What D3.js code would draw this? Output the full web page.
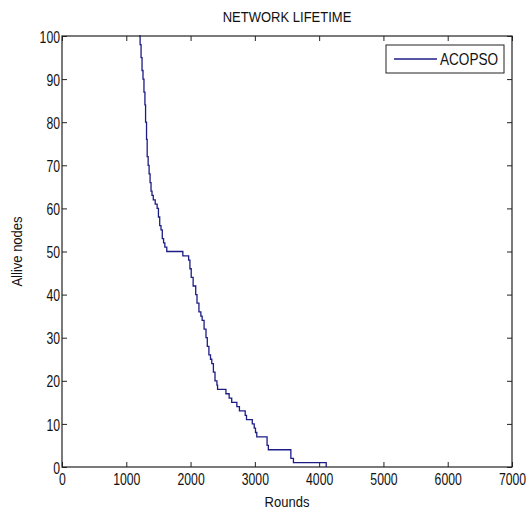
<!DOCTYPE html>
<html>
<head>
<meta charset="utf-8">
<script src="https://cdn.jsdelivr.net/npm/d3@7"></script>
<style>
  body { margin: 0; background: #fff; }
  text { font-family: "Liberation Sans", Arial, sans-serif; fill: #111; }
</style>
</head>
<body>
<div id="chart"></div>
<script>
// rounds at which the number of alive nodes changes, and the count after it
var rounds = [1200, 1215, 1230, 1245, 1260, 1275, 1290, 1300, 1315, 1325, 1340, 1355, 1370, 1385, 1400, 1420,
    1450, 1480, 1500, 1520, 1540, 1560, 1580, 1600, 1630, 1880, 1970, 1990, 2010, 2040, 2080, 2100,
    2130, 2160, 2180, 2210, 2240, 2260, 2285, 2310, 2330, 2355, 2380, 2410, 2420, 2550, 2600, 2640,
    2720, 2760, 2850, 2870, 2960, 2990, 3010, 3030, 3190, 3210, 3560, 3600, 4110];
var alive = [100, 98, 95, 92, 90, 87, 84, 80, 76, 72, 70, 68, 66, 64, 63, 62,
    61, 60, 58, 56, 55, 53, 52, 51, 50, 49, 48, 46, 44, 42, 40, 38,
    36, 35, 34, 32, 30, 28, 26, 25, 24, 22, 20, 19, 18, 17, 16, 15,
    14, 13, 12, 11, 10, 9, 8, 7, 5, 4, 2, 1, 0];
var xTickValues = [0, 1000, 2000, 3000, 4000, 5000, 6000, 7000];
var yTickValues = [0, 10, 20, 30, 40, 50, 60, 70, 80, 90, 100];
var seriesName = "ACOPSO";

var W = 530, H = 510;
var margin = {top: 36, right: 18, bottom: 43, left: 62},
    width = W - margin.left - margin.right,
    height = H - margin.top - margin.bottom;

var svg = d3.select("#chart")
    .append("svg")
        .attr("width", W)
        .attr("height", H)
    .append("g")
        .attr("transform", "translate(" + margin.left + "," + margin.top + ")");

var x = d3.scaleLinear().domain([0, 7000]).range([0, width]);
var y = d3.scaleLinear().domain([0, 100]).range([height, 0]);

var sx = 0.72; // narrow look of the matlab font

svg.append("rect")
    .attr("width", width)
    .attr("height", height)
    .attr("fill", "#fff");

// data line
var pts = rounds.map((r, i) => [r, alive[i]]);
var line = d3.line()
    .x(d => x(d[0]))
    .y(d => y(d[1]))
    .curve(d3.curveStepAfter);

svg.append("path")
    .datum(pts)
    .attr("d", line)
    .attr("fill", "none")
    .attr("stroke", "#1c1c86")
    .attr("stroke-width", 1.3);

// axes, ticks pointing inward
var gx = svg.append("g")
    .attr("transform", "translate(0," + height + ")")
    .call(d3.axisBottom(x).tickValues(xTickValues).tickFormat(d3.format("d"))
        .tickSize(-5).tickSizeOuter(0).tickPadding(6));
var gy = svg.append("g")
    .call(d3.axisLeft(y).tickValues(yTickValues).tickFormat(d3.format("d"))
        .tickSize(-5).tickSizeOuter(0));
svg.append("g")
    .call(d3.axisTop(x).tickValues(xTickValues).tickSize(-5).tickSizeOuter(0).tickFormat(""));
svg.append("g")
    .attr("transform", "translate(" + width + ",0)")
    .call(d3.axisRight(y).tickValues(yTickValues).tickSize(-5).tickSizeOuter(0).tickFormat(""));

svg.selectAll(".domain").remove();
svg.selectAll(".tick line").attr("stroke", "#222");

gx.selectAll("text")
    .style("font-size", "17px")
    .attr("transform", "scale(" + sx + ",1)");
gy.selectAll("text")
    .style("font-size", "17px")
    .attr("x", -2 / sx)
    .attr("dy", "0.36em")
    .attr("transform", "scale(" + sx + ",1)");
svg.selectAll(".tick text").attr("fill", "#111");
svg.selectAll("g").attr("font-family", null);

svg.append("rect")
    .attr("width", width)
    .attr("height", height)
    .attr("fill", "none")
    .attr("stroke", "#222")
    .attr("stroke-width", 1.2);

// title and labels
svg.append("text")
    .attr("transform", "translate(" + (width / 2) + ",-14) scale(0.84,1)")
    .attr("text-anchor", "middle")
    .style("font-size", "15.5px")
    .text("NETWORK LIFETIME");

svg.append("text")
    .attr("transform", "translate(" + (width / 2) + "," + (height + 40) + ") scale(0.84,1)")
    .attr("text-anchor", "middle")
    .style("font-size", "15.5px")
    .text("Rounds");

svg.append("text")
    .attr("transform", "translate(-40," + (height / 2) + ") rotate(-90) scale(0.84,1)")
    .attr("text-anchor", "middle")
    .style("font-size", "15.5px")
    .text("Allive nodes");

// legend
var legend = svg.append("g")
    .attr("transform", "translate(" + (width - 126) + ",9)");
legend.append("rect")
    .attr("width", 118)
    .attr("height", 28)
    .attr("fill", "#fff")
    .attr("stroke", "#222");
legend.append("line")
    .attr("x1", 8).attr("x2", 51)
    .attr("y1", 14).attr("y2", 14)
    .attr("stroke", "#1c1c86")
    .attr("stroke-width", 1.3);
legend.append("text")
    .attr("transform", "translate(54,20) scale(0.85,1)")
    .style("font-size", "16px")
    .text(seriesName);
</script>
</body>
</html>
